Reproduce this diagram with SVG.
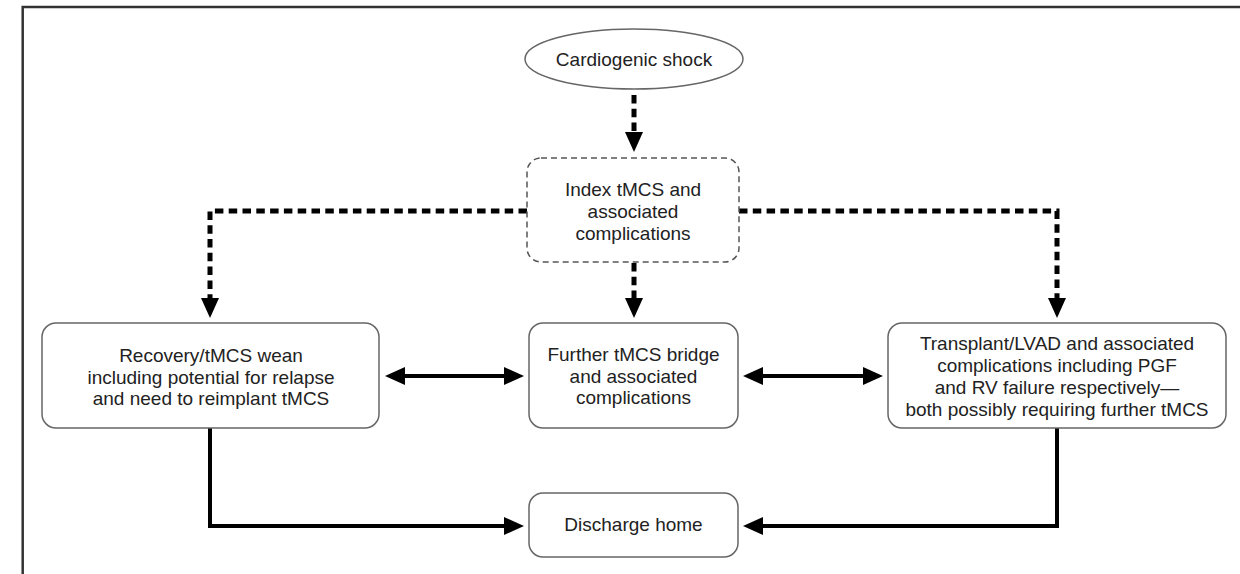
<svg xmlns="http://www.w3.org/2000/svg" width="1240" height="574" viewBox="0 0 1240 574">
  <style>
    .box { fill: #fff; stroke: #666; stroke-width: 1.5; }
    .dbox { fill: #fff; stroke: #555; stroke-width: 1.5; stroke-dasharray: 6 4; }
    .lbl { font-family: "Liberation Sans", Arial, Helvetica, sans-serif; font-size: 19px; fill: #222; text-anchor: middle; }
    .solid { fill: none; stroke: #000; stroke-width: 4; }
    .dash { fill: none; stroke: #000; stroke-width: 5; stroke-dasharray: 8.5 5.3; }
    .frame { fill: none; stroke: #333; stroke-width: 2.5; }
  </style>
  <defs>
    <marker id="ah" markerUnits="userSpaceOnUse" viewBox="0 0 20 18" refX="4" refY="9" markerWidth="20" markerHeight="18" orient="auto-start-reverse">
      <path d="M0,0 L20,9 L0,18 Z" fill="#000" stroke="none"/>
    </marker>
  </defs>
  <rect width="1240" height="574" fill="#fff"/>
  <path class="frame" d="M22.7,574 V7 H1240"/>

  <g id="connectors">
    <path class="dash" d="M634,95 V136" marker-end="url(#ah)"/>
    <path class="dash" d="M634,263 V302" marker-end="url(#ah)"/>
    <path class="dash" d="M527,211 H210 V302" marker-end="url(#ah)"/>
    <path class="dash" d="M739,211 H1057 V302" marker-end="url(#ah)"/>
    <path class="solid" d="M401,376 H508" marker-start="url(#ah)" marker-end="url(#ah)"/>
    <path class="solid" d="M759,376 H867" marker-start="url(#ah)" marker-end="url(#ah)"/>
    <path class="solid" d="M210,428 V526 H508" marker-end="url(#ah)"/>
    <path class="solid" d="M1057,428 V526 H759" marker-end="url(#ah)"/>
  </g>

  <g id="cardiogenic-shock">
    <ellipse class="box" cx="634" cy="59" rx="109" ry="30"/>
    <text class="lbl" x="634" y="66">Cardiogenic shock</text>
  </g>

  <g id="index-tmcs">
    <rect class="dbox" x="527" y="158" width="212" height="104" rx="14"/>
    <text class="lbl" x="633" y="196">Index tMCS and</text>
    <text class="lbl" x="633" y="218">associated</text>
    <text class="lbl" x="633" y="240">complications</text>
  </g>

  <g id="recovery">
    <rect class="box" x="42" y="323" width="337" height="105" rx="14"/>
    <text class="lbl" x="211" y="362">Recovery/tMCS wean</text>
    <text class="lbl" x="211" y="384">including potential for relapse</text>
    <text class="lbl" x="211" y="405">and need to reimplant tMCS</text>
  </g>

  <g id="further-bridge">
    <rect class="box" x="529" y="323" width="209" height="105" rx="14"/>
    <text class="lbl" x="633.5" y="361">Further tMCS bridge</text>
    <text class="lbl" x="633.5" y="383">and associated</text>
    <text class="lbl" x="633.5" y="404">complications</text>
  </g>

  <g id="transplant-lvad">
    <rect class="box" x="888" y="323" width="338" height="105" rx="14"/>
    <text class="lbl" x="1057" y="350">Transplant/LVAD and associated</text>
    <text class="lbl" x="1057" y="372">complications including PGF</text>
    <text class="lbl" x="1057" y="394">and RV failure respectively—</text>
    <text class="lbl" x="1057" y="416">both possibly requiring further tMCS</text>
  </g>

  <g id="discharge-home">
    <rect class="box" x="529" y="493" width="209" height="64" rx="14"/>
    <text class="lbl" x="633.5" y="531">Discharge home</text>
  </g>
</svg>
